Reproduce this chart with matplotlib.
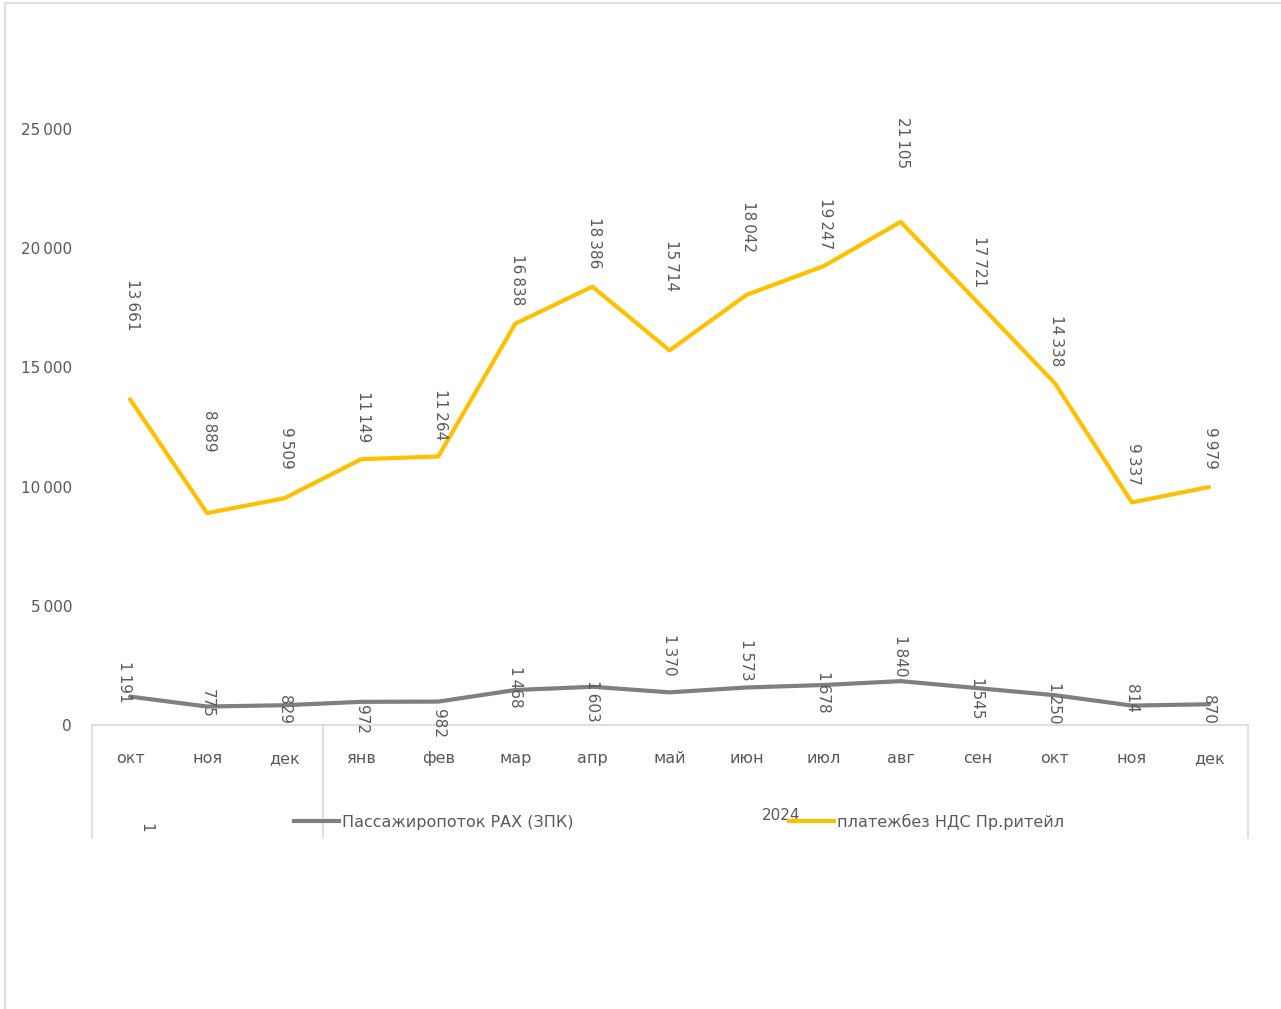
import matplotlib.pyplot as plt
from matplotlib.lines import Line2D
from matplotlib.patches import Rectangle
import numpy as np

# Data from the chart
months = ['окт', 'ноя', 'дек', 'янв', 'фев', 'мар', 'апр', 'май',
          'июн', 'июл', 'авг', 'сен', 'окт', 'ноя', 'дек']
passengers = [1191, 775, 829, 972, 982, 1468, 1603, 1370,
              1573, 1678, 1840, 1545, 1250, 814, 870]
payments = [13661, 8889, 9509, 11149, 11264, 16838, 18386, 15714,
            18042, 19247, 21105, 17721, 14338, 9337, 9979]
series_names = ['Пассажиропоток РАХ (ЗПК)', 'платежбез НДС Пр.ритейл']
year_labels = ['1', '2024']
yticks = [0, 5000, 10000, 15000, 20000, 25000]

# label placement (pixels above the point), as in the source chart
pay_off = [97, 84, 52, 45, 44, 46, 46, 87, 70, 45, 81, 43, 44, 40, 41]
pas_off = [15, 3, -4, -18, -22, 3, -14, 38, 28, -7, 25, -10, -8, 7, -5]

yellow = '#FFC000'
gray = '#7F7F7F'
text_color = '#595959'
line_color = '#D9D9D9'

plt.rcParams['font.family'] = ['DejaVu Sans']

W, H = 1281, 1009
fig = plt.figure(figsize=(W / 100, H / 100), dpi=100)
ax = fig.add_axes([91.5 / W, (H - 725) / H, 1156 / W, 715.2 / H])

x = np.arange(len(months))
ax.plot(x, payments, color=yellow, linewidth=3, solid_capstyle='round')
ax.plot(x, passengers, color=gray, linewidth=3, solid_capstyle='round')


def fmt(v):
    return f'{v:,}'.replace(',', '\u2009')


for i, v in enumerate(payments):
    ax.annotate(fmt(v), (i, v), xytext=(2, pay_off[i] - 2), textcoords='offset pixels',
                rotation=-90, ha='center', va='center', fontsize=11, color=text_color)
for i, v in enumerate(passengers):
    ax.annotate(fmt(v), (i, v), xytext=(-6 if i == 0 else 0, pas_off[i]),
                textcoords='offset pixels',
                rotation=-90, ha='center', va='center', fontsize=11, color=text_color)

ax.set_xlim(-0.5, len(months) - 0.5)
ax.set_ylim(0, 30000)
ax.set_yticks(yticks)
ax.set_yticklabels([fmt(t) for t in yticks], fontsize=11, color=text_color)
ax.set_xticks(x)
ax.set_xticklabels(months, fontsize=11.5, color=text_color)
ax.tick_params(axis='y', length=0, pad=14)
ax.tick_params(axis='x', length=0, pad=19)
for s in ax.spines.values():
    s.set_visible(False)

# category table lines
tb = ax.get_xaxis_transform()
table_depth = -(838 - 725) / 715.2
ax.plot([-0.5, len(months) - 0.5], [0, 0], color=line_color, lw=1.2,
        transform=tb, clip_on=False)
for xv in [-0.5, 2.5, len(months) - 0.5]:
    ax.plot([xv, xv], [0, table_depth], color=line_color, lw=1.2,
            transform=tb, clip_on=False)

# year labels
ax.text(0.2, -(828 - 725) / 715.2, year_labels[0], transform=tb, rotation=-90,
        ha='center', va='center', fontsize=11, color=text_color)
ax.text(8.45, -(815 - 725) / 715.2, year_labels[1], transform=tb,
        ha='center', va='center', fontsize=11, color=text_color)

# legend
h1 = Line2D([], [], color=gray, lw=3)
h2 = Line2D([], [], color=yellow, lw=3)
leg1 = ax.legend([h1], [series_names[0]], loc='center left', frameon=False,
                 bbox_to_anchor=((288 - 91.5) / 1156, -(822 - 725) / 715.2),
                 fontsize=11.5, handlelength=2.8, handletextpad=0.2,
                 labelcolor=text_color, borderaxespad=0)
ax.add_artist(leg1)
ax.legend([h2], [series_names[1]], loc='center left', frameon=False,
          bbox_to_anchor=((783 - 91.5) / 1156, -(822 - 725) / 715.2),
          fontsize=11.5, handlelength=2.8, handletextpad=0.2,
          labelcolor=text_color, borderaxespad=0)

# outer chart border
fig.patches.append(Rectangle((5 / W, -0.1), 1.2, 1.1 - 3 / H, transform=fig.transFigure,
                             fill=False, edgecolor=line_color, lw=1.2, figure=fig))

fig.savefig('out.png', dpi=100)
